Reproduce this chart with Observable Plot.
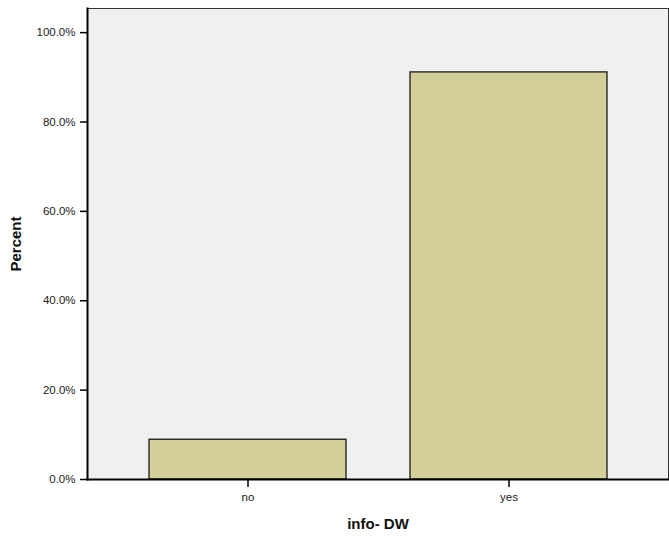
<!DOCTYPE html>
<html>
<head>
<meta charset="utf-8">
<script src="https://cdn.jsdelivr.net/npm/d3@7"></script>
<script src="https://cdn.jsdelivr.net/npm/@observablehq/plot@0.6"></script>
<style>
  html, body { margin: 0; padding: 0; background: #ffffff; }
  #chart svg { display: block; }
</style>
</head>
<body>
<div id="chart"></div>
<script>
const categories = ["no", "yes"];
const percents = [8.9, 91.1];
const yTicks = [0, 20, 40, 60, 80, 100];
const xTitle = "info- DW";
const yTitle = "Percent";

const data = categories.map((c, i) => ({category: c, percent: percents[i]}));
const font = "Arial, 'Liberation Sans', Helvetica, sans-serif";

const chart = Plot.plot({
  width: 669,
  height: 541,
  marginTop: 8,
  marginBottom: 62,
  marginLeft: 87,
  marginRight: 1,
  style: {fontFamily: font, background: "#ffffff", color: "#222"},
  x: {domain: categories, paddingInner: 0.247, paddingOuter: 0.233},
  y: {domain: [0, 105.4]},
  marks: [
    Plot.frame({fill: "#f0f0f0", stroke: "#333", strokeWidth: 1}),
    Plot.barY(data, {x: "category", y: "percent", fill: "#d3cf98", stroke: "#1a1a1a", strokeWidth: 1.3}),
    Plot.frame({anchor: "left", stroke: "#000", strokeWidth: 2}),
    Plot.frame({anchor: "bottom", stroke: "#000", strokeWidth: 2}),
    Plot.axisY({ticks: yTicks, tickFormat: d => d.toFixed(1) + "%", tickSize: 7, tickPadding: 5, fontSize: 11.5, label: null, stroke: "#000", strokeWidth: 1.5, fill: "#222"}),
    Plot.axisX({tickSize: 8, tickPadding: 5, fontSize: 11.5, label: null, stroke: "#000", strokeWidth: 1.5, fill: "#222"}),
    Plot.text([yTitle], {frameAnchor: "left", dx: -71, rotate: -90, textAnchor: "middle", lineAnchor: "middle", fontWeight: "bold", fontSize: 15, fill: "#111"}),
    Plot.text([xTitle], {frameAnchor: "bottom", dy: 44.5, textAnchor: "middle", lineAnchor: "middle", fontWeight: "bold", fontSize: 15, fill: "#111"})
  ]
});
document.getElementById("chart").appendChild(chart);
</script>
</body>
</html>
